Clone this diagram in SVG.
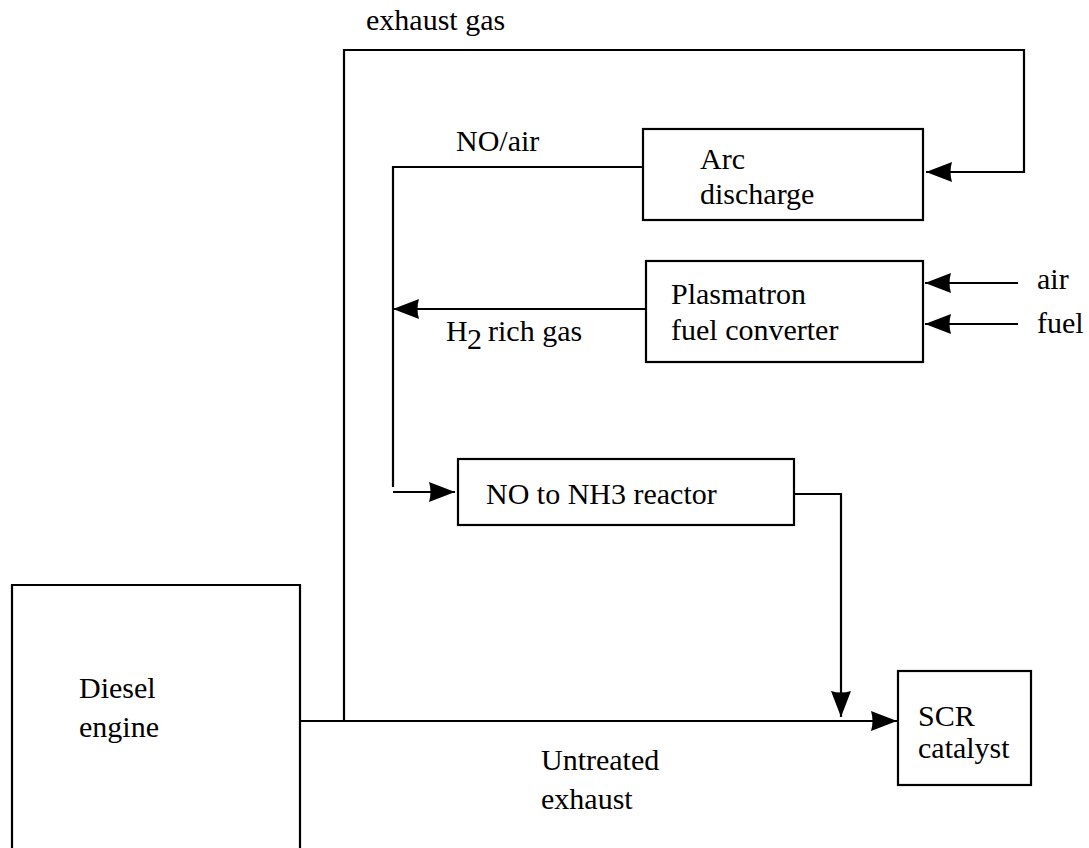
<svg xmlns="http://www.w3.org/2000/svg" width="1089" height="848" viewBox="0 0 1089 848">
<style>
.box{fill:none;stroke:#000;stroke-width:2.2}
.ln{fill:none;stroke:#000;stroke-width:2.2}
text{font-family:'Liberation Serif','Times New Roman',serif;font-size:30px;fill:#000}
</style>
<defs>
<marker id="ah" markerUnits="userSpaceOnUse" markerWidth="28" markerHeight="22" refX="26" refY="11" orient="auto" overflow="visible">
<path d="M0,1 L26,11 L0,21 Q3,11 0,1 Z" fill="#000"/>
</marker>
</defs>
<rect width="1089" height="848" fill="#fff"/>
<g id="connectors">
<path class="ln" d="M300,721 H897" marker-end="url(#ah)"/>
<path class="ln" d="M344,721 V50 H1024 V172 H926" marker-end="url(#ah)"/>
<path class="ln" d="M643,167 H393 V487"/>
<path class="ln" d="M646,309 H393" marker-end="url(#ah)"/>
<path class="ln" d="M393,492 H455" marker-end="url(#ah)"/>
<path class="ln" d="M794,494 H841 V717" marker-end="url(#ah)"/>
<path class="ln" d="M1018,283 H925" marker-end="url(#ah)"/>
<path class="ln" d="M1018,324 H925" marker-end="url(#ah)"/>
<text x="366" y="30">exhaust gas</text>
<text x="456" y="151">NO/air</text>
<text x="446" y="341">H</text>
<text x="467" y="349">2</text>
<text x="488" y="341">rich gas</text>
<text x="1037" y="289">air</text>
<text x="1037" y="333">fuel</text>
<text x="541" y="770">Untreated</text>
<text x="541" y="809">exhaust</text>
</g>
<g id="arc">
<rect class="box" x="643" y="129" width="280" height="91"/>
<text x="700" y="169">Arc</text>
<text x="700" y="204">discharge</text>
</g>
<g id="plasmatron">
<rect class="box" x="646" y="261" width="277" height="101"/>
<text x="671" y="304">Plasmatron</text>
<text x="671" y="340">fuel converter</text>
</g>
<g id="reactor">
<rect class="box" x="458" y="459" width="336" height="66"/>
<text x="486" y="504">NO to NH3 reactor</text>
</g>
<g id="scr">
<rect class="box" x="898" y="671" width="133" height="114"/>
<text x="918" y="726">SCR</text>
<text x="918" y="758">catalyst</text>
</g>
<g id="diesel">
<path class="box" d="M12,850 V585 H300 V850"/>
<text x="79" y="698">Diesel</text>
<text x="79" y="737">engine</text>
</g>
</svg>
